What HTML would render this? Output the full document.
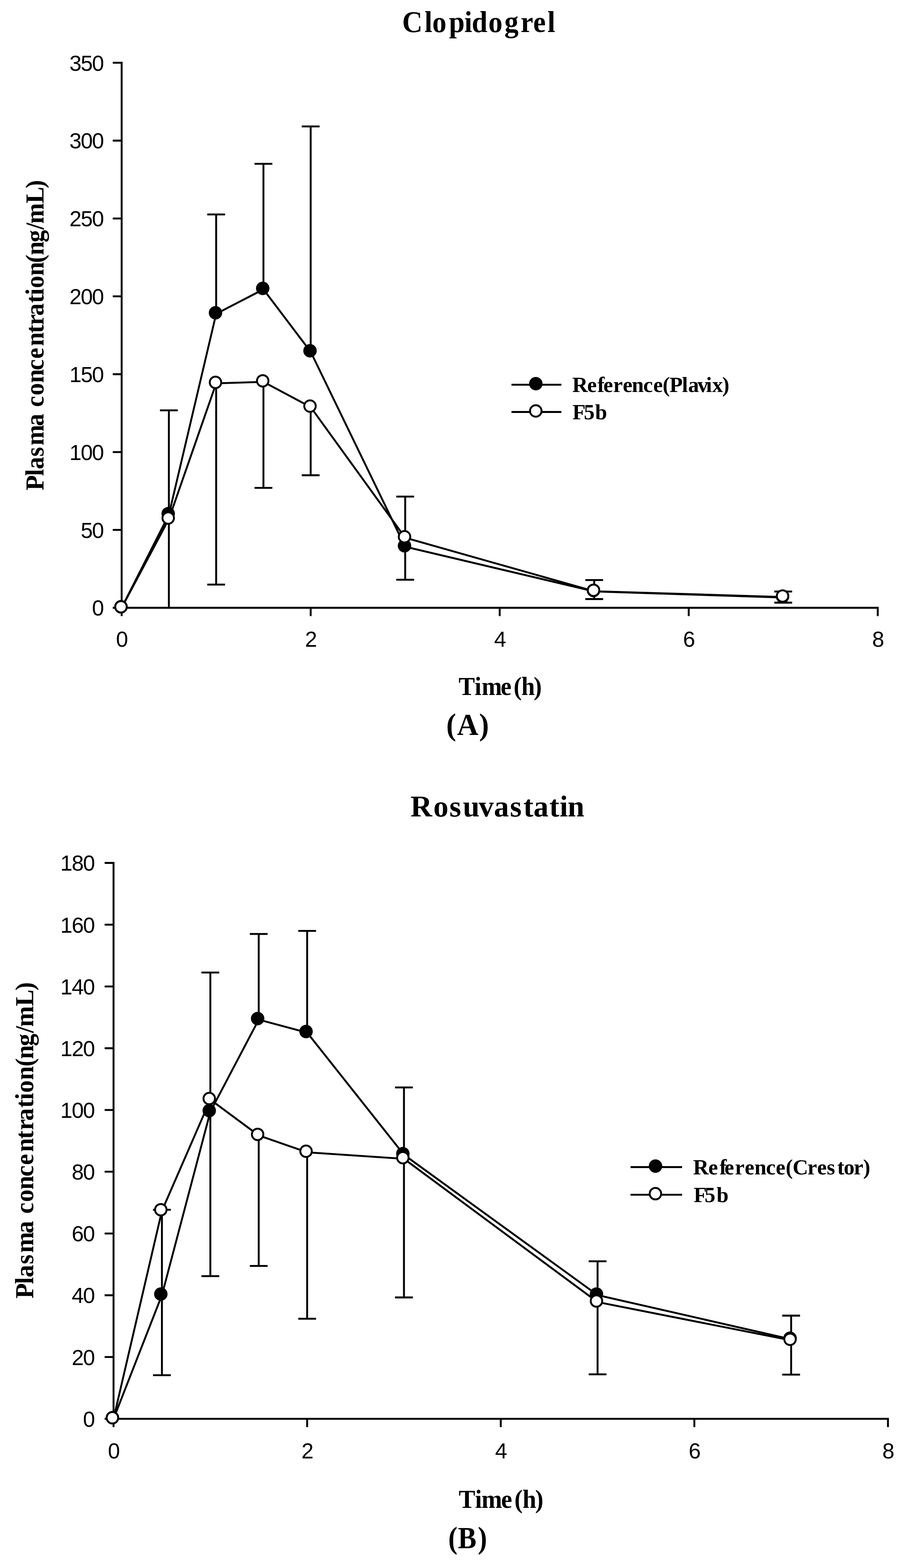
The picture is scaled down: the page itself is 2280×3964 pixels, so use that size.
<!DOCTYPE html>
<html><head><meta charset="utf-8"><title>Clopidogrel and Rosuvastatin plasma concentration-time profiles</title><style>html,body{margin:0;padding:0;background:#fff;width:2280px;height:3964px;overflow:hidden}svg{display:block}</style></head><body>
<svg width="2280" height="3964" viewBox="0 0 2280 3964">
<style>.ln{stroke:#000;stroke-width:4.8;fill:none}circle{fill:#000}circle.op{fill:#fff;stroke:#000;stroke-width:4.8}text{fill:#000}.tk{font-family:"Liberation Sans",Arial,sans-serif;font-size:55px}.sb{font-family:"Liberation Serif","Times New Roman",serif;font-weight:bold}</style>
<rect width="100%" height="100%" fill="#fff"/>
<text transform="scale(0.94 1)" x="1081.5 1141.6 1162.4 1207.1 1248.7 1268.6 1313.4 1356.4 1400 1433.7 1472.2" y="81" class="sb" font-size="76">Clopidogrel</text>
<path d="M307.5 158.7V1536.5H2218.7" class="ln" stroke-linecap="square"/>
<path d="M285 1536.5H307.5M285 1339.7H307.5M285 1142.8H307.5M285 946H307.5M285 749.2H307.5M285 552.4H307.5M285 355.5H307.5M285 158.7H307.5M307.5 1536.5V1557.5M785.3 1536.5V1557.5M1263.1 1536.5V1557.5M1740.9 1536.5V1557.5M2218.7 1536.5V1557.5" class="ln"/>
<path d="M426.9 1301.1V1037.3M404.4 1037.3H449.4M426.9 1312.1V1536.5M546.4 793.3V542.1M523.9 542.1H568.9M546.4 969.2V1477.8M523.9 1477.8H568.9M665.9 731.5V414.2M643.4 414.2H688.4M665.9 965.3V1233.4M643.4 1233.4H688.4M785.3 889.3V319.7M762.8 319.7H807.8M785.3 1029.1V1201.5M762.8 1201.5H807.8M1024.2 1382.2V1255.4M1001.7 1255.4H1046.7M1024.2 1359.4V1465.6M1001.7 1465.6H1046.7M1502 1495.2V1466.4M1479.5 1466.4H1524.5M1502 1494.8V1514.5M1479.5 1514.5H1524.5M1979.8 1510.5V1495.4M1957.3 1495.4H2002.3M1979.8 1509.3V1523.5M1957.3 1523.5H2002.3" class="ln"/>
<path d="M307.5 1536.5 L426.9 1301.1 L546.4 793.3 L665.9 731.5 L785.3 889.3 L1024.2 1382.2 L1502 1495.2 L1979.8 1510.5" class="ln" stroke-linejoin="round"/>
<path d="M307.5 1536.5 L426.9 1312.1 L546.4 969.2 L665.9 965.3 L785.3 1029.1 L1024.2 1359.4 L1502 1494.8 L1979.8 1509.3" class="ln" stroke-linejoin="round"/>
<circle cx="305.8" cy="1534" r="17"/>
<circle cx="425.2" cy="1298.6" r="17"/>
<circle cx="544.7" cy="790.8" r="17"/>
<circle cx="664.1" cy="729" r="17"/>
<circle cx="783.6" cy="886.8" r="17"/>
<circle cx="1022.5" cy="1379.7" r="17"/>
<circle cx="1500.3" cy="1492.7" r="17"/>
<circle cx="1978.1" cy="1508" r="17"/>
<circle cx="305.8" cy="1534" r="14.5" class="op"/>
<circle cx="425.2" cy="1309.6" r="14.5" class="op"/>
<circle cx="544.7" cy="966.7" r="14.5" class="op"/>
<circle cx="664.1" cy="962.8" r="14.5" class="op"/>
<circle cx="783.6" cy="1026.6" r="14.5" class="op"/>
<circle cx="1022.5" cy="1356.9" r="14.5" class="op"/>
<circle cx="1500.3" cy="1492.3" r="14.5" class="op"/>
<circle cx="1978.1" cy="1506.8" r="14.5" class="op"/>
<text x="232.6" y="1556.3" class="tk">0</text>
<text x="204 232.6" y="1359.5" class="tk">50</text>
<text x="175.4 204 232.6" y="1162.7" class="tk">100</text>
<text x="175.4 204 232.6" y="965.8" class="tk">150</text>
<text x="175.4 204 232.6" y="769" class="tk">200</text>
<text x="175.4 204 232.6" y="572.2" class="tk">250</text>
<text x="175.4 204 232.6" y="375.3" class="tk">300</text>
<text x="175.4 204 232.6" y="178.5" class="tk">350</text>
<text x="293.2" y="1634.7" class="tk">0</text>
<text x="771" y="1634.7" class="tk">2</text>
<text x="1249" y="1634.7" class="tk">4</text>
<text x="1726.4" y="1634.7" class="tk">6</text>
<text x="2204.4" y="1634.7" class="tk">8</text>
<text transform="rotate(-90) scale(0.96 1)" x="-1291.3 -1253.4 -1235.6 -1202.5 -1173.1 -1122.1 -1089.3 -1071.8 -1041.3 -1008.5 -975.2 -944.9 -911.5 -877.2 -856.4 -831.4 -798 -777.5 -758.9 -726.4 -692.5 -672.2 -638.2 -604.8 -589.2 -535.4 -495.9" y="110" class="sb" font-size="65.5">Plasma concentration(ng/mL)</text>
<text transform="scale(0.95 1)" x="1220.3 1262.8 1281.5 1332 1366.5 1387.2 1420" y="1756.6" class="sb" font-size="65">Time(h)</text>
<text transform="scale(0.96 1)" x="1175.1 1203.4 1261.4" y="1857.9" class="sb" font-size="78">(A)</text>
<path d="M1292.9 972.6H1419.1M1292.9 1041.5H1419.1" class="ln"/>
<circle cx="1354.4" cy="969.9" r="17"/>
<circle cx="1354.3" cy="1038.9" r="14.5" class="op"/>
<text x="1446.5 1484.2 1510 1525.3 1549.9 1574.2 1596.9 1625.9 1651.3 1675.1 1692.2 1723.8 1739.4 1763.1 1784.6 1800.2 1825.6" y="990.9" class="sb" font-size="54.5">Reference(Plavix)</text>
<text x="1447.1 1475.7 1504.2" y="1059.7" class="sb" font-size="54.5">F5b</text>
<text x="1037.5 1095.5 1135.9 1169.9 1210 1248.6 1288.9 1323 1348.5 1388.6 1414.5 1434.8" y="2064" class="sb" font-size="76">Rosuvastatin</text>
<path d="M287 2181.5V3586.8H2244.5" class="ln" stroke-linecap="square"/>
<path d="M264.5 3586.8H287M264.5 3430.7H287M264.5 3274.5H287M264.5 3118.4H287M264.5 2962.2H287M264.5 2806.1H287M264.5 2650H287M264.5 2493.8H287M264.5 2337.7H287M264.5 2181.5H287M287 3586.8V3607.8M776.4 3586.8V3607.8M1265.8 3586.8V3607.8M1755.1 3586.8V3607.8M2244.5 3586.8V3607.8" class="ln"/>
<path d="M409.3 3274.1V3058.3M386.8 3058.3H431.8M409.3 3061V3476.7M386.8 3476.7H431.8M531.7 2810.4V2458.7M509.2 2458.7H554.2M531.7 2779.9V3226.1M509.2 3226.1H554.2M654 2577.7V2361.1M631.5 2361.1H676.5M654 2870.5V3200.4M631.5 3200.4H676.5M776.4 2610.5V2353.3M753.9 2353.3H798.9M776.4 2913.1V3333.9M753.9 3333.9H798.9M1021.1 2919.3V2749.1M998.6 2749.1H1043.6M1021.1 2929.5V3280M998.6 3280H1043.6M1510.5 3274.1V3188.6M1488 3188.6H1533M1510.5 3291.7V3474.4M1488 3474.4H1533M1999.8 3385.8V3326M1977.3 3326H2022.3M1999.8 3388.5V3475.2M1977.3 3475.2H2022.3" class="ln"/>
<path d="M287 3586.8 L409.3 3274.1 L531.7 2810.4 L654 2577.7 L776.4 2610.5 L1021.1 2919.3 L1510.5 3274.1 L1999.8 3385.8" class="ln" stroke-linejoin="round"/>
<path d="M287 3586.8 L409.3 3061 L531.7 2779.9 L654 2870.5 L776.4 2913.1 L1021.1 2929.5 L1510.5 3291.7 L1999.8 3388.5" class="ln" stroke-linejoin="round"/>
<circle cx="284.2" cy="3584.1" r="17"/>
<circle cx="406.5" cy="3271.4" r="17"/>
<circle cx="528.9" cy="2807.7" r="17"/>
<circle cx="651.2" cy="2575" r="17"/>
<circle cx="773.6" cy="2607.8" r="17"/>
<circle cx="1018.3" cy="2916.6" r="17"/>
<circle cx="1507.7" cy="3271.4" r="17"/>
<circle cx="1997" cy="3383.1" r="17"/>
<circle cx="284.2" cy="3584.1" r="14.5" class="op"/>
<circle cx="406.5" cy="3058.3" r="14.5" class="op"/>
<circle cx="528.9" cy="2777.2" r="14.5" class="op"/>
<circle cx="651.2" cy="2867.8" r="14.5" class="op"/>
<circle cx="773.6" cy="2910.4" r="14.5" class="op"/>
<circle cx="1018.3" cy="2926.8" r="14.5" class="op"/>
<circle cx="1507.7" cy="3289" r="14.5" class="op"/>
<circle cx="1997" cy="3385.8" r="14.5" class="op"/>
<text x="209.8" y="3606.6" class="tk">0</text>
<text x="181.2 209.8" y="3450.5" class="tk">20</text>
<text x="181.2 209.8" y="3294.3" class="tk">40</text>
<text x="181.2 209.8" y="3138.2" class="tk">60</text>
<text x="181.2 209.8" y="2982.1" class="tk">80</text>
<text x="152.6 181.2 209.8" y="2825.9" class="tk">100</text>
<text x="152.6 181.2 209.8" y="2669.8" class="tk">120</text>
<text x="152.6 181.2 209.8" y="2513.6" class="tk">140</text>
<text x="152.6 181.2 209.8" y="2357.5" class="tk">160</text>
<text x="152.6 181.2 209.8" y="2201.4" class="tk">180</text>
<text x="272.7" y="3686.6" class="tk">0</text>
<text x="762.1" y="3686.6" class="tk">2</text>
<text x="1251.6" y="3686.6" class="tk">4</text>
<text x="1740.7" y="3686.6" class="tk">6</text>
<text x="2230.2" y="3686.6" class="tk">8</text>
<text transform="rotate(-90) scale(0.96 1)" x="-3419.5 -3381.5 -3363.7 -3329.1 -3299.2 -3248.3 -3215.3 -3196.3 -3165.3 -3132.9 -3098.4 -3067.9 -3033.6 -2999.3 -2976.2 -2951.4 -2917.1 -2896.3 -2877.9 -2844.2 -2808.7 -2788.9 -2754.9 -2720.3 -2704.2 -2649.8 -2608.4" y="83.7" class="sb" font-size="66">Plasma concentration(ng/mL)</text>
<text transform="scale(0.95 1)" x="1220.6 1263.9 1281.1 1333.4 1368.8 1390.2 1424" y="3811.6" class="sb" font-size="66">Time(h)</text>
<text transform="scale(0.9 1)" x="1258.8 1286.2 1341.9" y="3913.8" class="sb" font-size="78">(B)</text>
<path d="M1593.8 2950.5H1724.1M1593.8 3020.4H1724.1" class="ln"/>
<circle cx="1656.9" cy="2948" r="17"/>
<circle cx="1656.7" cy="3017.7" r="14.5" class="op"/>
<text x="1752.1 1790.4 1818.7 1831.3 1857.8 1882.4 1906.9 1936.3 1961.1 1986.1 2003.4 2040.9 2065.4 2089.8 2116.2 2132.8 2157.9 2181.7" y="2968.6" class="sb" font-size="54.5">Reference(Crestor)</text>
<text x="1753.6 1781.1 1811.2" y="3038.7" class="sb" font-size="54.5">F5b</text>
</svg>
</body></html>
